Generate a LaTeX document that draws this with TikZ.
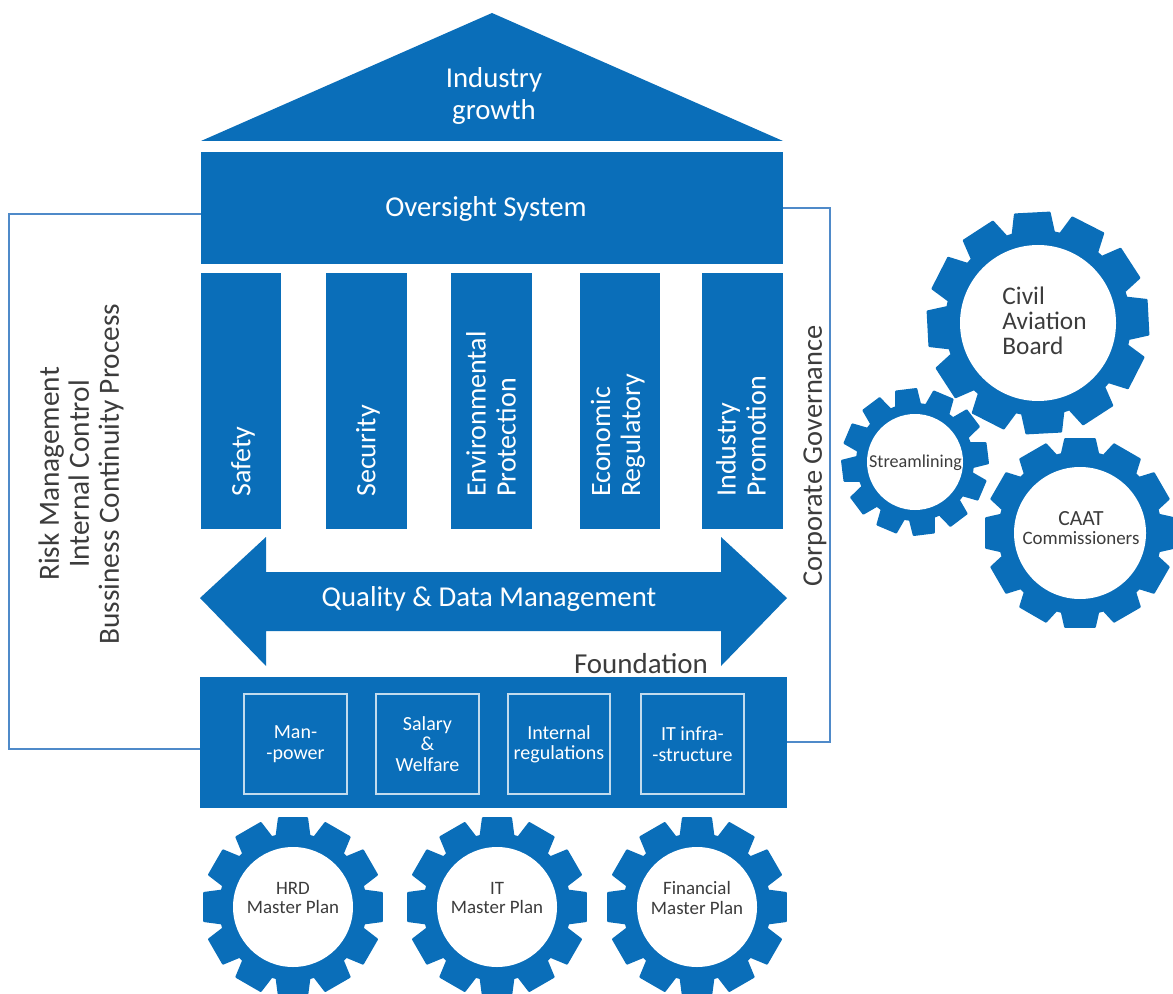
\documentclass[tikz,border=0pt]{standalone}
\usepackage{fontspec}
\setmainfont{Carlito}
\definecolor{caat}{HTML}{0A6EB9}
\definecolor{wire}{HTML}{4F8AC9}
\definecolor{ink}{HTML}{3C3C3C}
\tikzset{
  bar/.style={fill=caat,inner sep=0pt,outer sep=0pt,draw=none},
  subbox/.style={draw=white!75!caat,line width=1.1pt,inner sep=0pt,outer sep=0pt,align=center,text=white,font=\fontsize{15}{15.3}\selectfont},
  wirepath/.style={draw=wire,line width=0.9pt},
  vlabel/.style={rotate=90,text=white,align=left,inner sep=0pt,font=\fontsize{21}{22.5}\selectfont},
  sidelabel/.style={rotate=90,text=ink,align=center,inner sep=0pt,font=\fontsize{22}{22.5}\selectfont},
  headlabel/.style={text=white,align=center,inner sep=0pt,font=\fontsize{21.6}{23.5}\selectfont},
  hub/.style={circle,fill=white,inner sep=0pt},
  hubtext/.style={text=ink,inner sep=0pt,align=center,font=\fontsize{14.2}{14.4}\selectfont},
}
% \boxnode{name}{x1}{y1}{x2}{y2}{style}{text}
\newcommand{\boxnode}[7]{%
  \pgfmathsetmacro{\bw}{(#4-#2)*0.75}\pgfmathsetmacro{\bh}{(#5-#3)*0.75}%
  \node[#6,minimum width=\bw pt,minimum height=\bh pt] (#1) at ({(#2+#4)/2},{(#3+#5)/2}) {#7};%
}
% \gearshape{name}{cx}{cy}{tip}{root}{hub}{phase}{halfroot}{halftip}
\newcommand{\gearshape}[9]{%
  \def\gx{#2}\def\gy{#3}\def\gtip{#4}\def\groot{#5}\def\gphase{#7}\def\gwr{#8}\def\gwt{#9}%
  \fill[caat,line join=round,draw=caat,line width=1.5pt]
    ({\gx+\groot*cos(\gphase-\gwr)},{\gy-\groot*sin(\gphase-\gwr)})
    \foreach \k in {0,...,11}{
      \pgfextra{\pgfmathsetmacro{\ga}{\gphase+30*\k}}
      -- ({\gx+\groot*cos(\ga-\gwr)},{\gy-\groot*sin(\ga-\gwr)})
      -- ({\gx+\gtip*cos(\ga-\gwt)},{\gy-\gtip*sin(\ga-\gwt)})
      -- ({\gx+\gtip*cos(\ga+\gwt)},{\gy-\gtip*sin(\ga+\gwt)})
      -- ({\gx+\groot*cos(\ga+\gwr)},{\gy-\groot*sin(\ga+\gwr)})
    } -- cycle;
  \pgfmathsetmacro{\gd}{#6*1.5}%
  \node[hub,minimum size=\gd pt] (#1) at (\gx,\gy) {};%
}
\begin{document}
\begin{tikzpicture}[x=0.75pt,y=-0.75pt]
\useasboundingbox (0,0) rectangle (1173,994);
\clip (0,0) rectangle (1173,994);
% roof
\coordinate (roofA) at (492,13);
\coordinate (roofB) at (783,141);
\coordinate (roofC) at (201,141);
\fill[caat] (roofA) -- (roofB) -- (roofC) -- cycle;
\node[headlabel] (growth) at (494,96) {Industry\\growth};
% beam
\boxnode{oversight}{201}{152}{783}{264}{bar}{}
\node[headlabel] (ovt) at (486,209) {Oversight System};
% pillars
\boxnode{p1}{201}{273}{281}{529}{bar}{}
\boxnode{p2}{326}{273}{407}{529}{bar}{}
\boxnode{p3}{451}{273}{532}{529}{bar}{}
\boxnode{p4}{580}{273}{660}{529}{bar}{}
\boxnode{p5}{702}{273}{783}{529}{bar}{}
\node[vlabel,anchor=west] (t1) at (243,497) {Safety};
\node[vlabel,anchor=west] (t2) at (368,497) {Security};
\node[vlabel,anchor=west] (t3) at (491,497) {Environmental\\Protection};
\node[vlabel,anchor=west] (t4) at (618,497) {Economic\\Regulatory};
\node[vlabel,anchor=west] (t5) at (741,497) {Industry\\Promotion};
% arrow
\coordinate (aL) at (200,598);
\coordinate (aR) at (787,598);
\fill[caat] (aL) -- (266,537) -- (266,572) -- (721,572) -- (721,537) -- (aR) -- (721,666) -- (721,631) -- (266,631) -- (266,666) -- cycle;
\node[headlabel] (qdm) at (489,599) {Quality \& Data Management};
% foundation
\node[text=ink,inner sep=0pt,font=\fontsize{21.7}{24}\selectfont] (fl) at (641,664) {Foundation};
\boxnode{found}{200}{677}{787}{808}{bar}{}
\boxnode{b1}{244}{694}{347}{794}{subbox}{Man-\\-power}
\boxnode{b2}{376}{694}{479}{794}{subbox}{Salary\\\&\\Welfare}
\boxnode{b3}{508}{694}{610}{794}{subbox}{Internal\\regulations}
\boxnode{b4}{641}{694}{744}{794}{subbox}{IT infra-\\-structure}
% wires
\coordinate (w1) at (oversight.west |- 0,214);
\coordinate (w2) at (9,214);
\coordinate (w3) at (9,749);
\coordinate (w4) at (found.west |- 0,749);
\draw[wirepath] (w1) -- (w2) -- (w3) -- (w4);
\coordinate (e1) at (oversight.east |- 0,208);
\coordinate (e2) at (830,208);
\coordinate (e3) at (830,742);
\coordinate (e4) at (found.east |- 0,742);
\draw[wirepath] (e1) -- (e2) -- (e3) -- (e4);
% side labels
\node[sidelabel] (risk) at (81,474) {Risk Management\\Internal Control\\Bussiness Continuity Process};
\node[sidelabel,font=\fontsize{21.3}{22}\selectfont] (cg) at (815,456) {Corporate Governance};
% gears
\gearshape{civil}{1038}{323}{111}{92}{78}{3}{13}{9}
\gearshape{stream}{915}{462}{73}{58}{48}{7}{12}{8}
\gearshape{commish}{1080}{533}{95}{81}{66}{0}{13}{9}
\gearshape{hrd}{293}{907}{90}{73}{60}{0}{13}{9}
\gearshape{itp}{497}{907}{90}{73}{60}{0}{13}{9}
\gearshape{fin}{697}{907}{90}{73}{60}{0}{13}{9}
\node[hubtext,align=left,font=\fontsize{19}{18.8}\selectfont] (civilt) at (1044.5,321) {Civil\\Aviation\\Board};
\node[hubtext,font=\fontsize{13.6}{14}\selectfont] (streamt) at (915.5,463) {Streamlining};
\node[hubtext] (commisht) at (1081,528) {{\fontsize{16.2}{16}\selectfont CAAT}\\Commissioners};
\node[hubtext] (hrdt) at (293,898) {HRD\\Master Plan};
\node[hubtext] (itpt) at (497,898) {IT\\Master Plan};
\node[hubtext] (fint) at (697,898) {Financial\\Master Plan};
\end{tikzpicture}
\end{document}
